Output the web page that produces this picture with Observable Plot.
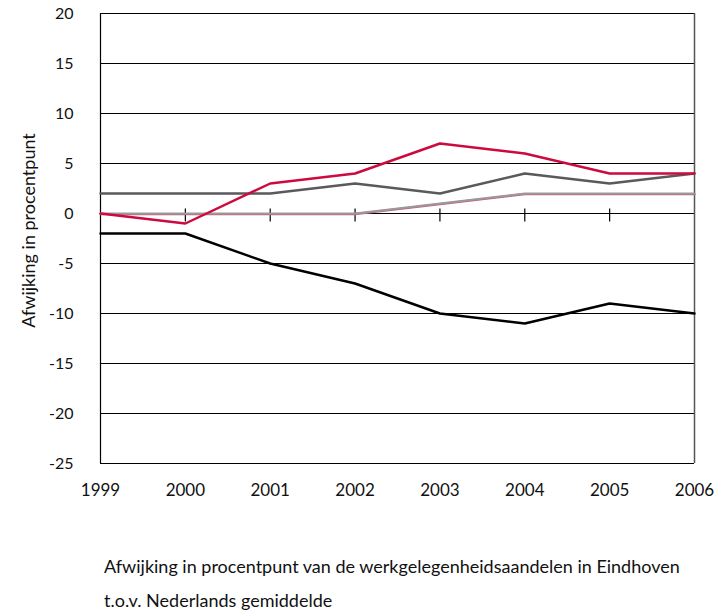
<!DOCTYPE html>
<html>
<head>
<meta charset="utf-8">
<script src="https://cdn.jsdelivr.net/npm/d3@7"></script>
<script src="https://cdn.jsdelivr.net/npm/@observablehq/plot@0.6"></script>
<style>
  body { margin: 0; background: #fff; font-family: Lato, "Open Sans", sans-serif; }
  #caption { margin-left: 104px; margin-top: 29px; font-size: 18px; line-height: 34px; color: #111; }
</style>
</head>
<body>
<div id="chart"></div>
<div id="caption">Afwijking in procentpunt van de werkgelegenheidsaandelen in Eindhoven<br>t.o.v. Nederlands gemiddelde</div>
<script>
const years = [1999, 2000, 2001, 2002, 2003, 2004, 2005, 2006];
const redSeries = [0, -1, 3, 4, 7, 6, 4, 4];
const darkGraySeries = [2, 2, 2, 3, 2, 4, 3, 4];
const pinkSeries = [0, 0, 0, 0, 1, 2, 2, 2];
const lightGraySeries = [0, 0, 0, 0, 1, 2, 2, 2];
const blackSeries = [-2, -2, -5, -7, -10, -11, -9, -10];
const yTicks = [-25, -20, -15, -10, -5, 0, 5, 10, 15, 20];
const innerYears = [2000, 2001, 2002, 2003, 2004, 2005];

const toRows = (vals) => years.map((y, i) => ({year: y, value: vals[i]}));

const chart = Plot.plot({
  width: 719,
  height: 520,
  marginTop: 13,
  marginLeft: 100,
  marginRight: 25,
  marginBottom: 57,
  style: {fontFamily: "Lato, 'Open Sans', sans-serif", fontSize: "16px", color: "#111"},
  x: {domain: [1999, 2006], ticks: years, tickFormat: d => String(d), tickSize: 0, tickPadding: 20, label: null},
  y: {domain: [-25, 20], ticks: yTicks, tickFormat: d => String(d), tickSize: 0, tickPadding: 27, label: null},
  marks: [
    Plot.ruleY(yTicks, {stroke: "#000", strokeWidth: 1}),
    Plot.ruleX([1999], {stroke: "#000", strokeWidth: 1.2}),
    Plot.ruleX([2006], {stroke: "#555", strokeWidth: 1.5}),
    Plot.ruleX(innerYears, {y1: 0.45, y2: -0.85, stroke: "#000", strokeWidth: 1.2}),
    Plot.line(toRows(blackSeries), {x: "year", y: "value", stroke: "#000", strokeWidth: 2.4}),
    Plot.line(toRows(pinkSeries), {x: "year", y: "value", stroke: "#c9607c", strokeWidth: 2.4, dy: 0.6}),
    Plot.line(toRows(lightGraySeries), {x: "year", y: "value", stroke: "#9a9a9a", strokeWidth: 2}),
    Plot.line(toRows(darkGraySeries), {x: "year", y: "value", stroke: "#5a5a5e", strokeWidth: 2.4}),
    Plot.line(toRows(redSeries), {x: "year", y: "value", stroke: "#cc0a3e", strokeWidth: 2.4}),
    Plot.axisX({ticks: years, tickFormat: d => String(d), tickSize: 0, tickPadding: 20, fontSize: 17}),
    Plot.axisY({ticks: yTicks, tickFormat: d => String(d), tickSize: 0, tickPadding: 27, fontSize: 16, label: null}),
    Plot.text(["Afwijking in procentpunt"], {frameAnchor: "left", textAnchor: "middle", rotate: -90, dx: -71, dy: -8, fontSize: 18, fill: "#111"})
  ]
});
document.getElementById("chart").appendChild(chart);
</script>
</body>
</html>
